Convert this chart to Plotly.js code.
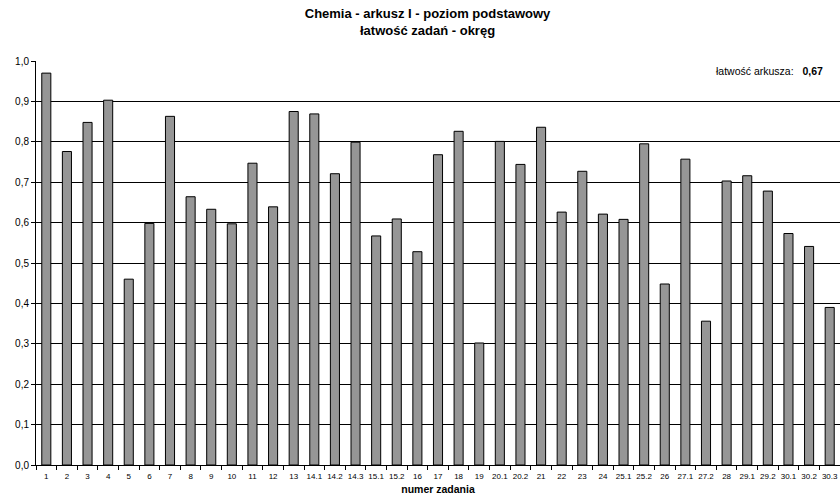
<!DOCTYPE html>
<html>
<head>
<meta charset="utf-8">
<script src="https://cdn.plot.ly/plotly-3.0.1.min.js"></script>
<style>html,body{margin:0;padding:0;background:#fff}#chart{width:840px;height:498px}</style>
</head>
<body>
<div id="chart"></div>
<script>
var categories = ["1","2","3","4","5","6","7","8","9","10","11","12","13","14.1","14.2","14.3","15.1","15.2","16","17","18","19","20.1","20.2","21","22","23","24","25.1","25.2","26","27.1","27.2","28","29.1","29.2","30.1","30.2","30.3"];
var values = [0.970,0.776,0.848,0.903,0.460,0.598,0.863,0.664,0.633,0.597,0.747,0.639,0.875,0.869,0.721,0.799,0.567,0.609,0.528,0.768,0.826,0.302,0.801,0.744,0.836,0.626,0.727,0.621,0.608,0.795,0.448,0.757,0.356,0.703,0.716,0.678,0.573,0.541,0.390];
var yTicks = [0,0.1,0.2,0.3,0.4,0.5,0.6,0.7,0.8,0.9,1.0];
var titleLines = ["Chemia - arkusz I - poziom podstawowy", "łatwość zadań - okręg"];
var xTitle = "numer zadania";
var sheetLabel = "łatwość arkusza:";
var sheetValue = "0,67";

var font = "Arial, 'Liberation Sans', sans-serif";

var trace = {
  type: "bar",
  x: categories,
  y: values,
  marker: {color: "#969696", line: {color: "#000", width: 1}},
  hoverinfo: "x+y"
};

var layout = {
  width: 840, height: 498,
  margin: {l: 36, r: 0, t: 61, b: 33, pad: 0},
  paper_bgcolor: "#fff", plot_bgcolor: "#fff",
  separators: ", ",
  bargap: 0.56,
  showlegend: false,
  font: {family: font, color: "#000", size: 10},
  title: {text: titleLines.map(function(s){return "<b>" + s + "</b>";}).join("<br>"), x: 0.509, xanchor: "center", y: 0.964, yanchor: "top", font: {family: font, size: 13, color: "#000"}},
  xaxis: {
    type: "category",
    range: [-0.5, 38.5],
    tickangle: 0,
    tickfont: {family: font, size: 8, color: "#000"},
    ticks: "outside", ticklen: 4, tickcolor: "#000", tickwidth: 1,
    tickson: "boundaries",
    ticklabelstandoff: 3,
    showline: true, linecolor: "#000", linewidth: 1,
    showgrid: false, zeroline: false,
    title: {text: "<b>" + xTitle + "</b>", font: {family: font, size: 10.5, color: "#000"}, standoff: 6},
    fixedrange: true
  },
  yaxis: {
    range: [0, 1.0],
    tickmode: "array", tickvals: yTicks,
    tickformat: ".1f",
    tickfont: {family: font, size: 10, color: "#000"},
    ticks: "outside", ticklen: 4, tickcolor: "#000",
    showline: true, linecolor: "#000", linewidth: 1,
    showgrid: true, gridcolor: "#000", gridwidth: 1,
    zeroline: false,
    fixedrange: true
  },
  annotations: [{
    xref: "paper", yref: "paper", x: 0.981, y: 0.975, xanchor: "right", yanchor: "middle",
    text: sheetLabel + "&nbsp;&nbsp;&nbsp;<b>" + sheetValue + "</b>",
    showarrow: false, font: {family: font, size: 10.5, color: "#000"}
  }]
};

Plotly.newPlot("chart", [trace], layout, {displayModeBar: false, staticPlot: true});
</script>
</body>
</html>
